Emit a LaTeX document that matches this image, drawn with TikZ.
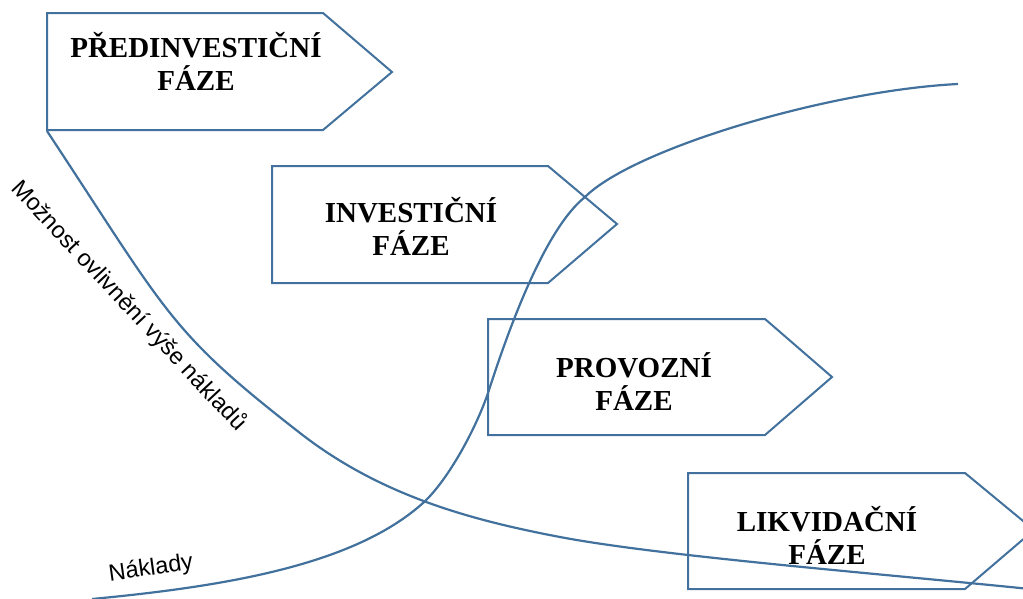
\documentclass[tikz,border=0pt]{standalone}
\usepackage{fontspec}
\setmainfont{Liberation Serif}
\newfontfamily\arialfont{Liberation Sans}
\definecolor{lineblue}{RGB}{65,113,156}
\tikzset{
  phase/.style={draw=lineblue, line width=2pt, line join=miter},
  phasetext/.style={font=\bfseries\fontsize{29}{33}\selectfont, align=center, text=black, inner sep=0pt},
  curve/.style={draw=lineblue, line width=2.2pt},
  curvelabel/.style={font=\arialfont\fontsize{23.5}{25}\selectfont, text=black, inner sep=0pt}
}
\begin{document}
\begin{tikzpicture}[x=1pt,y=-1pt]
\useasboundingbox (0,0) rectangle (1023,598);
\clip (0,0) rectangle (1023,598);
% curve: possibility to influence costs
\draw[curve] (47,131) .. controls (169,316) and (169,331) .. (300,433)
  .. controls (380,495.4) and (470,519.9) .. (560,537)
  .. controls (660,556) and (873,573) .. (1030,589);
% curve: costs
\draw[curve] (92,599) .. controls (222,586.6) and (353,566) .. (423,503)
  .. controls (448,480.5) and (477,427) .. (489,390)
  .. controls (509,328) and (545,229) .. (585,197)
  .. controls (633,149) and (828,90.5) .. (958,84);
% phases
\draw[phase] (47,13) -- (323,13) -- (392,72) -- (323,130) -- (47,130) -- cycle;
\node[phasetext] (p1) at (196,61) {PŘEDINVESTIČNÍ\\FÁZE};
\draw[phase] (272,166) -- (548,166) -- (617,224) -- (548,283) -- (272,283) -- cycle;
\node[phasetext] (p2) at (411,226) {INVESTIČNÍ\\FÁZE};
\draw[phase] (488,319) -- (765,319) -- (832,377) -- (765,435) -- (488,435) -- cycle;
\node[phasetext] (p3) at (634,382) {PROVOZNÍ\\FÁZE};
\draw[phase] (688,473) -- (965,473) -- (1034,530) -- (965,589) -- (688,589) -- cycle;
\node[phasetext] (p4) at (827,535) {LIKVIDAČNÍ\\FÁZE};
% labels
\node[curvelabel, rotate=-47] (l1) at (129,306) {Možnost ovlivnění výše nákladů};
\node[curvelabel, rotate=8] (l2) at (151,569) {Náklady};
\end{tikzpicture}
\end{document}
